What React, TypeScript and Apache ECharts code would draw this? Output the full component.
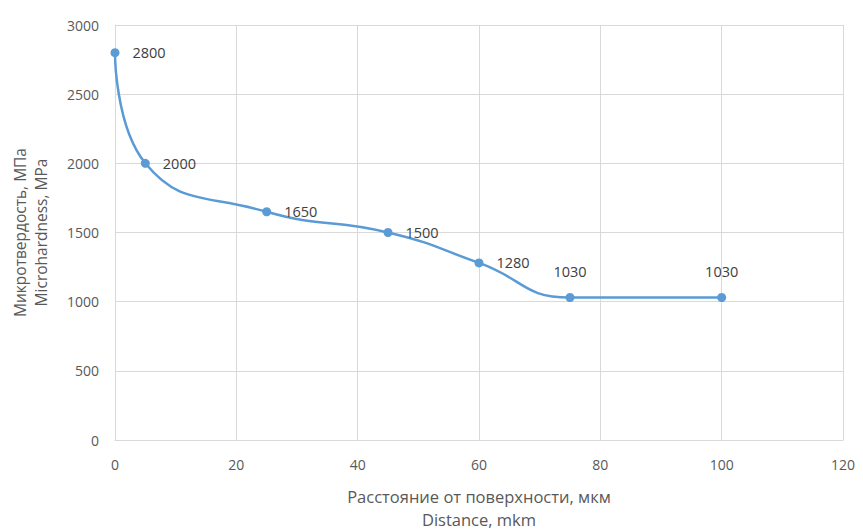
import React, { useEffect, useRef } from "react";
import * as echarts from "echarts";

const distances = [0, 5, 25, 45, 60, 75, 100];
const hardness = [2800, 2000, 1650, 1500, 1280, 1030, 1030];
const labelAbove = [false, false, false, false, false, true, true];
const yAxisTitle = "Микротвердость, МПа\nMicrohardness, MPa";
const xAxisTitle = "Расстояние от поверхности, мкм\nDistance, mkm";

export default function App() {
  const ref = useRef<HTMLDivElement>(null);
  useEffect(() => {
    if (!ref.current) return;
    const chart = echarts.init(ref.current, null, { renderer: "svg" });
    const font = "'Open Sans', 'DejaVu Sans', sans-serif";
    chart.setOption({
      animation: false,
      grid: { left: 115, right: 20, top: 25, bottom: 90, containLabel: false, outerBoundsMode: "none" },
      xAxis: {
        type: "value",
        min: 0,
        max: 120,
        interval: 20,
        name: xAxisTitle,
        nameLocation: "middle",
        nameGap: 45,
        nameTextStyle: { color: "#595959", fontSize: 16.5, fontFamily: font, lineHeight: 23 },
        axisLine: { show: true, lineStyle: { color: "#d9d9d9" } },
        axisTick: { show: false },
        axisLabel: { color: "#595959", fontSize: 14, fontFamily: font, margin: 17, formatter: (v: number) => String(v) },
        splitLine: { show: true, lineStyle: { color: "#d9d9d9" } },
      },
      yAxis: {
        type: "value",
        min: 0,
        max: 3000,
        interval: 500,
        name: yAxisTitle,
        nameLocation: "middle",
        nameGap: 64,
        nameRotate: 90,
        nameTextStyle: { color: "#595959", fontSize: 15.5, fontFamily: font, lineHeight: 21 },
        axisLine: { show: true, lineStyle: { color: "#d9d9d9" } },
        axisTick: { show: false },
        axisLabel: { color: "#595959", fontSize: 14, fontFamily: font, margin: 16, formatter: (v: number) => String(v) },
        splitLine: { show: true, lineStyle: { color: "#d9d9d9" } },
      },
      series: [
        {
          type: "line",
          smooth: 0.5,
          data: distances.map((d, i) => ({
            value: [d, hardness[i]],
            label: labelAbove[i]
              ? { position: "top", distance: 14 }
              : { position: "right", distance: 13 },
          })),
          symbol: "circle",
          symbolSize: 9,
          lineStyle: { color: "#5b9bd5", width: 2.5 },
          itemStyle: { color: "#5b9bd5" },
          label: {
            show: true,
            color: "#404040",
            fontSize: 14.5,
            fontFamily: font,
            formatter: (p: any) => String(p.value[1]),
          },
        },
      ],
    });
    return () => chart.dispose();
  }, []);
  return (
    <div
      ref={ref}
      style={{ position: "absolute", left: 0, top: 0, width: 863, height: 530, background: "#fff" }}
    />
  );
}
